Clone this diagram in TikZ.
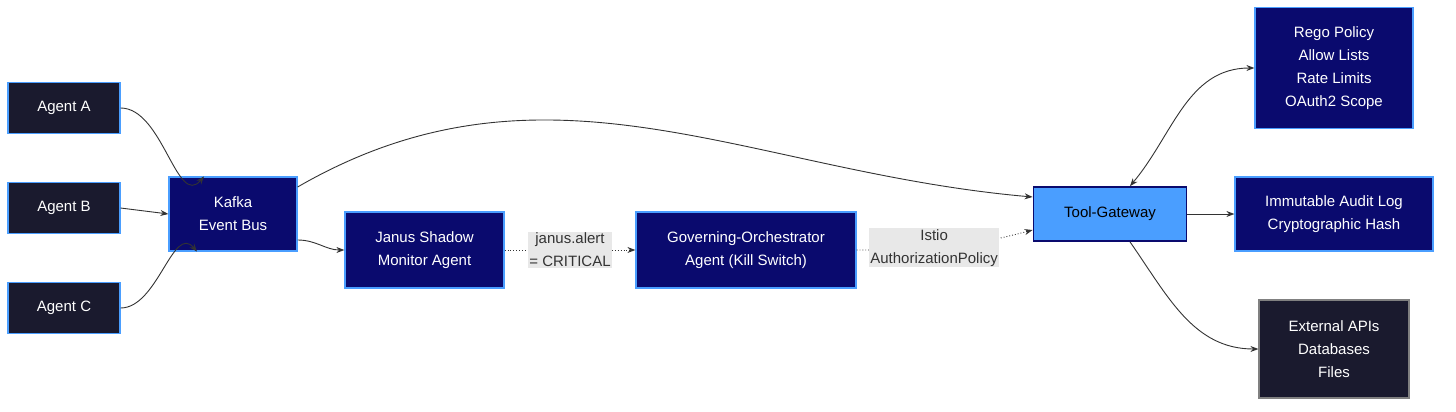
\documentclass[tikz,border=0pt]{standalone}
\usepackage{fontspec}
\setmainfont{Liberation Sans}
\usetikzlibrary{arrows.meta}
\definecolor{navy}{HTML}{0A0A6E}
\definecolor{agentbg}{HTML}{1A1A2E}
\definecolor{skyline}{HTML}{4A9EFF}
\definecolor{lblbg}{HTML}{E8E8E8}
\definecolor{edge}{HTML}{333333}
\tikzset{
  box/.style={draw=skyline,line width=1.2pt,fill=navy,text=white,align=center,font=\fontsize{15}{23}\selectfont,inner sep=0pt},
  agent/.style={box,fill=agentbg},
  link/.style={draw=edge,line width=0.9pt,-{Stealth[length=8pt,width=6pt]}},
  dotlink/.style={link,dotted},
  lbl/.style={fill=lblbg,text=edge,align=center,font=\fontsize{15}{23}\selectfont,inner sep=1pt}
}
\begin{document}
\begin{tikzpicture}[x=1pt,y=-1pt]
\useasboundingbox (0,0) rectangle (1456,412);
% Drawing nodes
\node[agent,minimum width=112pt,minimum height=51pt] (agentA) at (64,108) {Agent A};
\node[agent,minimum width=112pt,minimum height=51pt] (agentB) at (64,208) {Agent B};
\node[agent,minimum width=112pt,minimum height=51pt] (agentC) at (64,308) {Agent C};
\node[box,minimum width=128pt,minimum height=74pt] (kafka) at (233,214) {Kafka\\Event Bus};
\node[box,minimum width=159pt,minimum height=76pt] (janus) at (424.5,250) {Janus Shadow\\Monitor Agent};
\node[box,minimum width=220pt,minimum height=76pt] (gov) at (746,250) {Governing-Orchestrator\\Agent (Kill Switch)};
\node[box,fill=skyline,draw=navy,text=black,line width=1.8pt,minimum width=153pt,minimum height=54pt] (gateway) at (1110,214) {Tool-Gateway};
\node[box,minimum width=158pt,minimum height=121pt] (rego) at (1334,68) {Rego Policy\\Allow Lists\\Rate Limits\\OAuth2 Scope};
\node[box,minimum width=198pt,minimum height=74pt] (audit) at (1334,214) {Immutable Audit Log\\Cryptographic Hash};
\node[agent,draw=gray,minimum width=150pt,minimum height=98pt] (ext) at (1334,349) {External APIs\\Databases\\Files};
% Drawing connectors
\draw[link] (agentA.east) to[out=0,in=-130] ([xshift=-29pt]kafka.north);
\draw[link] (agentB.east) -- (kafka.west);
\draw[link] (agentC.east) to[out=0,in=130] ([xshift=-36pt]kafka.south);
\draw[link] ([yshift=27pt]kafka.east) to[out=30,in=175] ([yshift=17pt]gateway.west);
\draw[link] ([yshift=-26pt]kafka.east) to[out=0,in=180] (janus.west);
\draw[dotlink] (janus.east) -- (gov.west) node[lbl,midway] {janus.alert\\= CRITICAL};
\draw[dotlink] (gov.east) to[out=0,in=195] node[lbl,pos=0.43] {Istio\\AuthorizationPolicy} ([yshift=-16pt]gateway.west);
\draw[link,{Stealth[length=8pt,width=6pt]}-{Stealth[length=8pt,width=6pt]}] ([xshift=20pt]gateway.north) to[out=50,in=180] (rego.west);
\draw[link] (gateway.east) -- (audit.west);
\draw[link] ([xshift=20pt]gateway.south) to[out=-55,in=180] (ext.west);
% Done with connectors
\end{tikzpicture}
\end{document}
